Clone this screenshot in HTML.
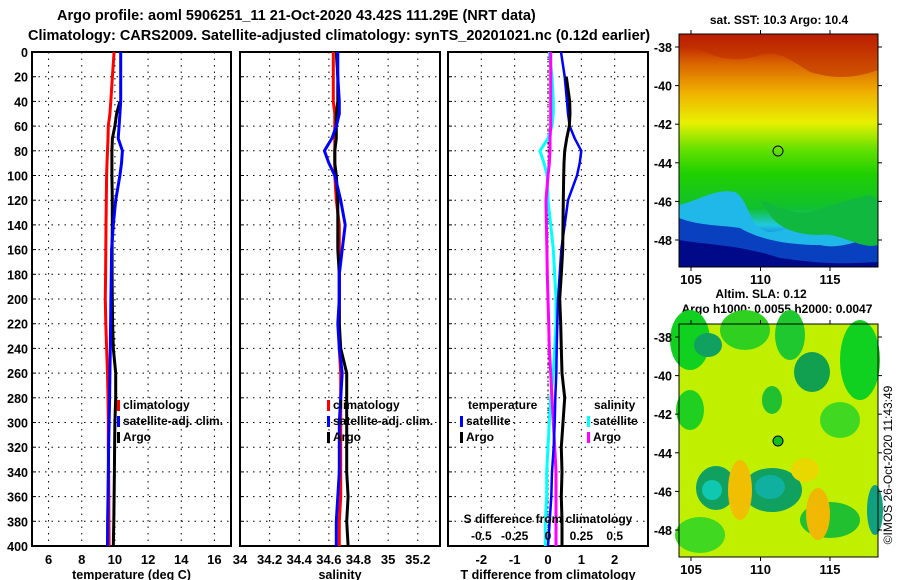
<!DOCTYPE html>
<html><head><meta charset="utf-8"><style>
body{margin:0;background:#fff;}
svg{display:block;font-family:"Liberation Sans",sans-serif;font-weight:bold;}
</style></head><body>
<svg id="c" width="900" height="580" viewBox="0 0 900 580">
<defs>
<linearGradient id="sst" x1="0" y1="0" x2="0" y2="1">
<stop offset="0" stop-color="#b00000"/><stop offset="0.12" stop-color="#d86000"/>
<stop offset="0.25" stop-color="#f0b000"/><stop offset="0.38" stop-color="#e8f000"/>
<stop offset="0.5" stop-color="#60e000"/><stop offset="0.6" stop-color="#20d000"/>
<stop offset="0.75" stop-color="#10c030"/><stop offset="0.82" stop-color="#20c8e0"/>
<stop offset="0.88" stop-color="#1070e0"/><stop offset="0.95" stop-color="#0010a0"/>
<stop offset="1" stop-color="#000880"/></linearGradient>
</defs>
<text x="57" y="20" font-size="14.5">Argo profile: aoml 5906251_11 21-Oct-2020 43.42S 111.29E (NRT data)</text>
<text x="28" y="40" font-size="14.5">Climatology: CARS2009. Satellite-adjusted climatology: synTS_20201021.nc (0.12d earlier)</text>
<g id="plots"></g>
<g id="maps"></g>
<text transform="translate(892,465) rotate(-90)" text-anchor="middle" font-size="12" font-weight="normal">©IMOS 26-Oct-2020 11:43:49</text>
</svg>
<script>
const NS="http://www.w3.org/2000/svg";
const svg=document.getElementById('c');
function el(t,a,p){const e=document.createElementNS(NS,t);for(const k in a)e.setAttribute(k,a[k]);(p||svg).appendChild(e);return e;}
function tx(s,x,y,o,p){const e=el('text',Object.assign({x:x,y:y,'font-size':12},o||{}),p);e.textContent=s;return e;}

// ---- data ----
const pressures=[0,20,40,50,60,70,80,90,100,120,140,160,180,200,220,240,260,280,300,320,340,360,380,400];
const tempClim=[9.95,9.85,9.75,9.7,9.6,9.58,9.55,9.52,9.5,9.48,9.46,9.45,9.44,9.42,9.45,9.5,9.55,9.58,9.6,9.6,9.62,9.63,9.64,9.65];
const tempSat=[10.35,10.35,10.35,10.3,10.25,10.2,10.45,10.4,10.3,10.05,9.9,9.8,9.78,9.76,9.74,9.72,9.7,9.68,9.65,9.62,9.6,9.58,9.56,9.55];
const tempArgo=[null,null,10.3,10.1,10.0,9.85,9.82,9.82,9.82,9.84,9.84,9.83,9.83,9.84,9.86,9.9,10.05,10.05,10.0,9.98,9.97,9.95,9.93,9.9];
const salClim=[34.63,34.63,34.63,34.64,34.64,34.64,34.64,34.64,34.64,34.65,34.67,34.67,34.67,34.67,34.67,34.67,34.68,34.68,34.68,34.68,34.68,34.68,34.67,34.67];
const salSat=[34.66,34.66,34.67,34.67,34.65,34.62,34.57,34.6,34.64,34.68,34.71,34.69,34.67,34.67,34.66,34.67,34.69,34.68,34.67,34.67,34.67,34.66,34.65,34.65];
const salArgo=[34.65,34.66,34.66,34.65,34.65,34.65,34.64,34.64,34.65,34.66,34.66,34.66,34.67,34.67,34.67,34.68,34.72,34.72,34.72,34.72,34.72,34.73,34.72,34.73];
const tdiffSat=[0.39,0.5,0.57,0.6,0.65,0.8,1.0,0.95,0.87,0.6,0.5,0.4,0.35,0.3,0.28,0.26,0.25,0.22,0.2,0.17,0.12,0.1,0.05,0.0];
const tdiffArgo=[null,0.55,0.65,0.66,0.64,0.56,0.5,0.48,0.47,0.46,0.45,0.44,0.4,0.35,0.38,0.4,0.42,0.5,0.45,0.4,0.42,0.4,0.42,0.42];
const sdiffSat=[0.01,0.03,0.04,0.04,0.03,0.0,-0.06,-0.03,-0.005,0.0,0.02,0.04,0.05,0.06,0.06,0.05,0.04,0.02,0.01,0.0,-0.01,-0.01,-0.02,-0.02];
const sdiffArgo=[0.02,0.02,0.02,0.02,0.02,0.015,0.015,0.01,0.0,-0.015,-0.012,-0.008,-0.005,0.0,0.005,0.01,0.02,0.03,0.04,0.05,0.06,0.06,0.06,0.06];
const yTicks=[0,20,40,60,80,100,120,140,160,180,200,220,240,260,280,300,320,340,360,380,400];
const tTicks=[6,8,10,12,14,16];
const sTicks=[34,34.2,34.4,34.6,34.8,35,35.2];
const dTicks=[-2,-1,0,1,2];
const dsTicks=[-0.5,-0.25,0,0.25,0.5];
const dsTickLabels=['-0.5','-0.25','0','0.25','0.5'];

const TOP=52,BOT=546;
const yP=p=>TOP+(p/400)*(BOT-TOP);
const panels=[
 {name:'temperature',x0:32,x1:231,min:5,max:17,ticks:tTicks,title:'temperature (deg C)'},
 {name:'salinity',x0:240,x1:440,min:34,max:35.35,ticks:sTicks,title:'salinity'},
 {name:'difference',x0:448,x1:648,min:-3,max:3,ticks:dTicks,title:'T difference from climatology'}
];
const g=document.getElementById('plots');
panels.forEach(P=>{
 P.x=v=>P.x0+(v-P.min)/(P.max-P.min)*(P.x1-P.x0);
 const pg=el('g',{},g);
 
 
 yTicks.forEach(t=>{if(t>0&&t<400){const l=el('line',{x1:P.x0,x2:P.x1,y1:yP(t),y2:yP(t),stroke:'#000','stroke-dasharray':'1.5 5'},pg);}
  el('line',{x1:P.x0,x2:P.x0+4,y1:yP(t),y2:yP(t),stroke:'#000'},pg);});
 P.ticks.forEach((t,i)=>{const X=P.x(t);
  if(X>P.x0+2&&X<P.x1-2){const l=el('line',{x1:X,x2:X,y1:TOP,y2:BOT,stroke:'#000','stroke-dasharray':'1.5 5'},pg);}
  const lb=tx(String(t),X,564,{'text-anchor':'middle','font-size':13},pg);});
 const r=el('rect',{x:P.x0,y:TOP,width:P.x1-P.x0,height:BOT-TOP,fill:'none',stroke:'#000','stroke-width':2},pg);
 
 const tt=tx(P.title,(P.x0+P.x1)/2,579,{'text-anchor':'middle','font-size':12.5},pg);
 
});
yTicks.forEach(t=>{const l=tx(String(t),28,yP(t)+5,{'text-anchor':'end','font-size':12.5},g);});

function line(arr,xf,color,name,w){
 let pts=[];arr.forEach((v,i)=>{if(v!==null)pts.push(xf(v).toFixed(1)+','+yP(pressures[i]).toFixed(1));});
 const l=el('polyline',{points:pts.join(' '),fill:'none',stroke:color,'stroke-width':w||3},g);
 
}
const [P1,P2,P3]=panels;
line(tempClim,P1.x,'#f00','temp-climatology-line');
line(tempArgo,P1.x,'#000','temp-argo-line');
line(tempSat,P1.x,'#00f','temp-satellite-line');
line(salClim,P2.x,'#f00','sal-climatology-line');
line(salArgo,P2.x,'#000','sal-argo-line');
line(salSat,P2.x,'#00f','sal-satellite-line');
const xs=v=>P3.x(v*4);
el('line',{x1:P3.x(0),x2:P3.x(0),y1:TOP,y2:BOT,stroke:'#000','stroke-dasharray':'1.5 3'},g);
line(sdiffSat,xs,'#0ff','sdiff-satellite-line');
line(sdiffArgo,xs,'#f0f','sdiff-argo-line');
line(tdiffSat,P3.x,'#00f','tdiff-satellite-line',2.5);
line(tdiffArgo,P3.x,'#000','tdiff-argo-line');

function leg(x,y,c,s,name){el('rect',{x:x,y:y-9,width:3,height:11,fill:c},g);
 const t=tx(s,x+6,y,{},g);}
leg(117,409,'#f00','climatology','legend-climatology');leg(117,425,'#00f','satellite-adj. clim.','legend-satellite');leg(117,441,'#000','Argo','legend-argo');
leg(327,409,'#f00','climatology','legend-climatology-2');leg(327,425,'#00f','satellite-adj. clim.','legend-satellite-2');leg(327,441,'#000','Argo','legend-argo-2');
tx('temperature',468,409,{},g);tx('salinity',594,409,{},g);
leg(460,425,'#00f','satellite','legend-t-satellite');leg(460,441,'#000','Argo','legend-t-argo');
leg(587,425,'#0ff','satellite','legend-s-satellite');leg(587,441,'#f0f','Argo','legend-s-argo');
tx('S difference from climatology',548,523,{'text-anchor':'middle'},g);
dsTicks.forEach((t,i)=>tx(dsTickLabels[i],xs(t),540,{'text-anchor':'middle'},g));

// ---- maps ----
const mg=document.getElementById('maps');
const MX0=679,MX1=878;
const lonX=l=>691+(l-105)*13.9;
const latTicks=[-38,-40,-42,-44,-46,-48];
const lonTicks=[105,110,115];
function mapFrame(y0,y1,lat38){
 const latY=l=>lat38+(-38-l)*19.3;
 el('rect',{x:MX0,y:y0,width:MX1-MX0,height:y1-y0,fill:'none',stroke:'#000'},mg);
 latTicks.forEach(l=>{tx(String(l),672,latY(l)+5,{'text-anchor':'end','font-size':12.5},mg);
  el('line',{x1:MX0-4,x2:MX0,y1:latY(l),y2:latY(l),stroke:'#000'},mg);el('line',{x1:MX1,x2:MX1+4,y1:latY(l),y2:latY(l),stroke:'#000'},mg);});
 lonTicks.forEach(l=>{el('line',{x1:lonX(l),x2:lonX(l),y1:y0-4,y2:y0,stroke:'#000'},mg);
  el('line',{x1:lonX(l),x2:lonX(l),y1:y1,y2:y1+4,stroke:'#000'},mg);
  tx(String(l),lonX(l),y1+17,{'text-anchor':'middle','font-size':13},mg);});
}
const sst=el('g',{},mg);
el('rect',{x:MX0,y:34,width:199,height:233,fill:'url(#sst)'},sst);
el('path',{d:'M679 34 H878 V70 C850 80 830 78 810 72 C790 60 780 50 760 55 C740 62 720 60 700 50 L679 45Z',fill:'#c03000',opacity:0.6},sst);
el('path',{d:'M679 205 C700 200 715 188 735 192 C750 200 748 230 770 232 C800 230 810 215 840 210 L878 200 V267 H679Z',fill:'#20b8e8'},sst);
el('path',{d:'M679 218 C700 226 720 225 740 228 C760 240 790 245 820 245 C840 250 860 240 878 235 V267 H679Z',fill:'#0840c0'},sst);
el('path',{d:'M679 240 C710 245 740 245 780 258 C810 262 830 265 878 262 V267 H679Z',fill:'#000a88'},sst);
el('path',{d:'M760 200 C775 205 790 215 810 212 C830 205 850 200 870 195 L878 200 V245 C860 250 840 232 820 235 C800 235 780 230 770 215Z',fill:'#10b840'},sst);
mapFrame(34,267,47);
tx('sat. SST: 10.3 Argo: 10.4',779,24,{'text-anchor':'middle'},mg);
const c1=el('circle',{cx:778,cy:151,r:5,fill:'none',stroke:'#000'},mg);
tx('Altim. SLA: 0.12',761,298,{'text-anchor':'middle'},mg);
tx('Argo h1000: 0.0055 h2000: 0.0047',777,313,{'text-anchor':'middle'},mg);
const sla=el('g',{},mg);
el('rect',{x:MX0,y:324,width:199,height:233,fill:'#c0f000'},sla);
const blobs=[[690,340,20,30,'#10d020'],[708,345,14,12,'#10a060'],[745,330,25,20,'#30d020'],[790,335,15,25,'#20c830'],[812,372,18,20,'#10a050'],[860,360,20,40,'#10d020'],[690,410,14,20,'#20d020'],[772,400,10,14,'#20c030'],[840,420,20,18,'#40d820'],[716,488,20,22,'#10a060'],[712,490,10,10,'#10c8b0'],[772,490,30,22,'#10a060'],[770,487,15,12,'#10b0a0'],[830,520,30,18,'#20c030'],[700,535,25,18,'#40d820'],[875,510,8,25,'#10a080']];
blobs.forEach(b=>el('ellipse',{cx:b[0],cy:b[1],rx:b[2],ry:b[3],fill:b[4]},sla));
[[740,490,12,30,'#f0c000'],[818,514,12,26,'#f0b800'],[805,470,14,12,'#e8d800']].forEach(b=>el('ellipse',{cx:b[0],cy:b[1],rx:b[2],ry:b[3],fill:b[4]},sla));
mapFrame(324,557,337);
const c2=el('circle',{cx:778,cy:441,r:5,fill:'#10c020',stroke:'#000'},mg);
</script>
</body></html>
